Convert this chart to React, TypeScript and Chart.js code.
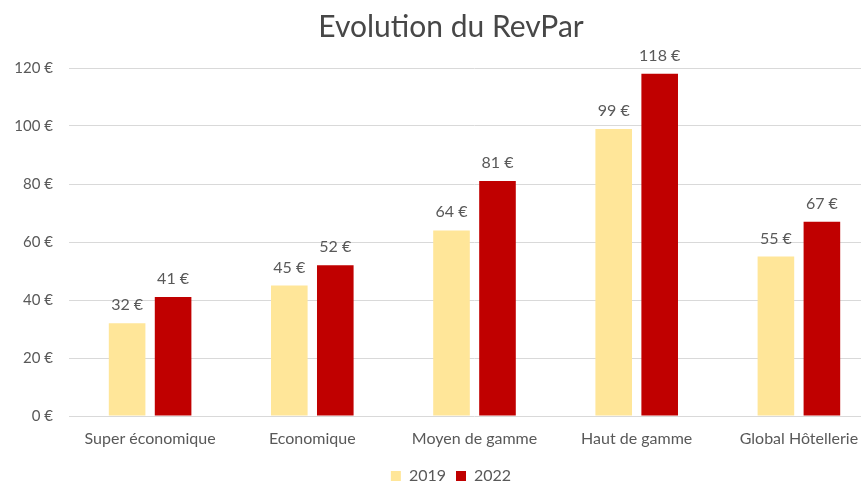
import React, { useEffect, useRef } from "react";
import { Chart, registerables } from "chart.js";

Chart.register(...registerables);

const categories = ["Super économique", "Economique", "Moyen de gamme", "Haut de gamme", "Global Hôtellerie"];
const values2019 = [32, 45, 64, 99, 55];
const values2022 = [41, 52, 81, 118, 67];
const seriesLabels = ["2019", "2022"];
const titleText = "Evolution du RevPar";

const FONT = "Lato, 'Open Sans', sans-serif";

const dataLabelPlugin = {
  id: "dataLabels",
  afterDatasetsDraw(chart: any) {
    const ctx = chart.ctx;
    ctx.save();
    ctx.font = `16px ${FONT}`;
    ctx.fillStyle = "#595959";
    ctx.textAlign = "center";
    ctx.textBaseline = "alphabetic";
    chart.data.datasets.forEach((ds: any, i: number) => {
      const meta = chart.getDatasetMeta(i);
      meta.data.forEach((bar: any, j: number) => {
        ctx.fillText(`${ds.data[j]} €`, bar.x, bar.y - 13);
      });
    });
    ctx.restore();
  },
};

export default function App() {
  const ref = useRef<HTMLCanvasElement>(null);
  useEffect(() => {
    document.body.style.margin = "0";
    const chart = new Chart(ref.current!, {
      type: "bar",
      data: {
        labels: categories,
        datasets: [
          { label: seriesLabels[0], data: values2019, backgroundColor: "#FFE699" },
          { label: seriesLabels[1], data: values2022, backgroundColor: "#C00000" },
        ],
      },
      options: {
        animation: false,
        responsive: false,
        layout: { padding: { left: 0, right: 0, top: 0, bottom: 0 } },
        datasets: { bar: { categoryPercentage: 0.567, barPercentage: 0.796 } },
        plugins: {
          title: {
            display: true,
            text: titleText,
            color: "#474747",
            font: { family: FONT, size: 30, weight: "normal" },
            padding: { top: 9, bottom: 23 },
          },
          legend: {
            position: "bottom",
            labels: {
              boxWidth: 10,
              boxHeight: 10,
              color: "#595959",
              font: { family: FONT, size: 16 },
              padding: 10,
            },
          },
          tooltip: { enabled: false },
        },
        scales: {
          x: {
            grid: { display: false },
            border: { display: false },
            ticks: { color: "#595959", font: { family: FONT, size: 16 }, padding: 5, maxRotation: 0 },
            afterFit: (scale: any) => {
              scale.height = 42;
            },
          },
          y: {
            min: 0,
            max: 120,
            ticks: {
              stepSize: 20,
              color: "#595959",
              font: { family: FONT, size: 15 },
              padding: 16,
              callback: (v: any) => `${v} €`,
            },
            grid: { color: "#d9d9d9", lineWidth: 1, drawTicks: false },
            border: { display: false },
            afterFit: (scale: any) => {
              scale.width = 69;
            },
          },
          yRight: {
            position: "right",
            min: 0,
            max: 120,
            grid: { display: false, drawTicks: false },
            border: { display: false },
            ticks: { display: false },
            afterFit: (scale: any) => {
              scale.width = 22;
            },
          },
        },
      },
      plugins: [dataLabelPlugin],
    });
    return () => chart.destroy();
  }, []);
  return (
    <div style={{ width: 861, height: 483, overflow: "hidden", position: "relative" }}>
      <canvas ref={ref} width={902} height={494} style={{ display: "block" }} />
    </div>
  );
}
